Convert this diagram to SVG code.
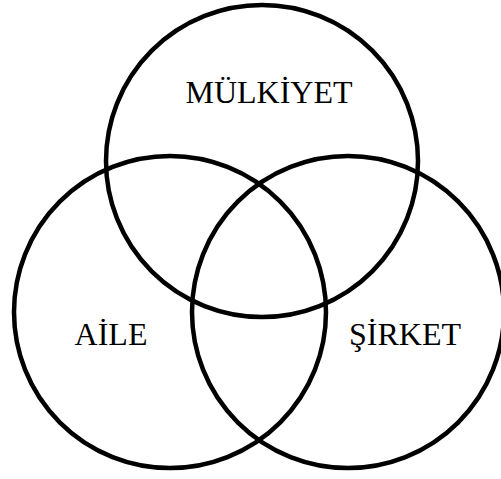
<svg xmlns="http://www.w3.org/2000/svg" width="501" height="479" viewBox="0 0 501 479">
<style>
.c{fill:none;stroke:#000;stroke-width:4.5}
.t{font-family:"Liberation Serif","Times New Roman",serif;font-size:32px;fill:#000;text-anchor:middle}
</style>
<rect width="501" height="479" fill="#fff"/>
<g id="mulkiyet"><circle class="c" cx="262" cy="161" r="156"/><text class="t" x="269" y="103">MÜLKİYET</text></g>
<g id="aile"><circle class="c" cx="170" cy="312" r="156"/><text class="t" x="111" y="345">AİLE</text></g>
<g id="sirket"><circle class="c" cx="348" cy="312" r="156"/><text class="t" x="405" y="345">ŞİRKET</text></g>
<g id="connectors"></g>
</svg>
